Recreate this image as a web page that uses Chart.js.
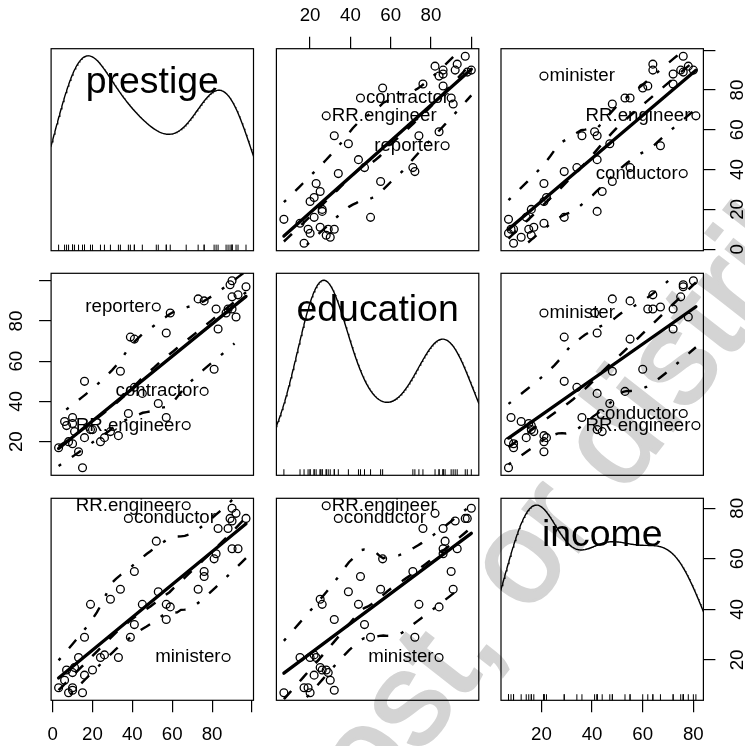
<!DOCTYPE html>
<html>
<head>
<meta charset="utf-8">
<script src="https://cdn.jsdelivr.net/npm/chart.js@4.4.0/dist/chart.umd.min.js"></script>
<style>
html,body{margin:0;padding:0;background:#fff;}
#wrap{position:relative;width:745px;height:746px;overflow:hidden;background:#fff;}
#wm{position:absolute;left:0;top:0;font-family:"Liberation Sans",Arial,sans-serif;font-weight:normal;color:#d4d4d4;-webkit-text-stroke:3px #d4d4d4;white-space:nowrap;}
canvas{position:absolute;}
</style>
</head>
<body>
<div id="wrap"><div id="wm">Do not copy, post, or distribute</div></div>
<script>
// ---------------- data (Duncan occupational prestige) ----------------
const occupations = ["accountant","pilot","architect","author","chemist","minister","professor","dentist","reporter","engineer","undertaker","lawyer","physician","welfare.worker","teacher","conductor","contractor","factory.owner","store.manager","banker","bookkeeper","mail.carrier","insurance.agent","store.clerk","carpenter","electrician","RR.engineer","machinist","auto.repairman","plumber","gas.stn.attendant","coal.miner","streetcar.motorman","taxi.driver","truck.driver","machine.operator","barber","bartender","shoe.shiner","cook","soda.clerk","watchman","janitor","policeman","waiter"];
const income    = [62,72,75,55,64,21,64,80,67,72,42,76,76,41,48,76,53,60,42,78,29,48,55,29,21,47,81,36,22,44,15,7,42,9,21,21,16,16,9,14,12,17,7,34,8];
const education = [86,76,92,90,86,84,93,100,87,86,74,98,97,84,91,34,45,56,44,82,72,55,71,50,23,39,28,32,22,25,29,7,26,19,15,20,26,28,17,22,30,25,20,47,32];
const prestige  = [82,83,90,76,90,87,93,90,52,88,57,89,97,59,73,38,76,81,45,92,39,34,41,16,33,53,67,57,26,29,10,15,19,10,13,24,20,7,3,16,6,11,8,41,10];

const varNames = ["prestige","education","income"];

// tick values and labels per variable
const prestigeTicks = [0,20,40,60,80,100];
const prestigeTickLabels = ["0","20","40","60","80",""];
const educationTicks = [20,40,60,80,100];
const educationTickLabels = ["20","40","60","80",""];
const incomeTicks = [20,40,60,80];
const incomeTickLabels = ["20","40","60","80"];

// labelled points per panel (row variable vs column variable)
const idPrestigeEducation = ["contractor","RR.engineer","reporter"];
const idPrestigeIncome    = ["minister","RR.engineer","conductor"];
const idEducationPrestige = ["reporter","contractor","RR.engineer"];
const idEducationIncome   = ["minister","conductor","RR.engineer"];
const idIncomePrestige    = ["RR.engineer","conductor","minister"];
const idIncomeEducation   = ["RR.engineer","conductor","minister"];

// ---------------- helpers ----------------
const FONT = '"Liberation Sans", Arial, Helvetica, sans-serif';
Chart.defaults.font.family = FONT;
Chart.defaults.color = '#000';

const vars = [prestige, education, income];
const ticksOf = [prestigeTicks, educationTicks, incomeTicks];
const tickLabelsOf = [prestigeTickLabels, educationTickLabels, incomeTickLabels];
const idsOf = {"0-1":idPrestigeEducation,"0-2":idPrestigeIncome,"1-0":idEducationPrestige,"1-2":idEducationIncome,"2-0":idIncomePrestige,"2-1":idIncomeEducation};

function rangeOf(a){ return [Math.min(...a), Math.max(...a)]; }
function padRange(a){ const [lo,hi]=rangeOf(a); const d=(hi-lo)*0.04; return [lo-d, hi+d]; }
function median(a){ const s=a.slice().sort((p,q)=>p-q); const n=s.length; return n%2 ? s[(n-1)/2] : (s[n/2-1]+s[n/2])/2; }
function mean(a){ return a.reduce((p,q)=>p+q,0)/a.length; }

function lmFit(xs, ys){
  const mx=mean(xs), my=mean(ys);
  let sxx=0,sxy=0;
  for(let i=0;i<xs.length;i++){ sxx+=(xs[i]-mx)**2; sxy+=(xs[i]-mx)*(ys[i]-my); }
  const b=sxy/sxx; return {a: my-b*mx, b};
}

function loessAt(xs, ys, rw, x0, span, degree){
  const n=xs.length;
  let q=Math.floor(n*span+1e-9); if(q<1) q=1; if(q>n) q=n;
  const d=xs.map(v=>Math.abs(v-x0));
  const h=d.slice().sort((a,b)=>a-b)[q-1];
  const w=new Array(n);
  let sw=0,swx=0,swy=0;
  for(let i=0;i<n;i++){
    const u = h>0 ? d[i]/h : (d[i]===0?0:1);
    const t = u<1 ? Math.pow(1-u*u*u,3) : 0;
    w[i]=t*rw[i]; sw+=w[i]; swx+=w[i]*xs[i]; swy+=w[i]*ys[i];
  }
  if(sw<=0) return NaN;
  const xb=swx/sw, yb=swy/sw;
  if(degree===0) return yb;
  let sxx=0,sxy=0;
  for(let i=0;i<n;i++){ sxx+=w[i]*(xs[i]-xb)**2; sxy+=w[i]*(xs[i]-xb)*(ys[i]-yb); }
  const b = sxx>1e-10 ? sxy/sxx : 0;
  return yb + b*(x0-xb);
}

function loessFit(xs, ys, span, degree, iterations){
  const n=xs.length; let rw=new Array(n).fill(1); let fitted=null;
  for(let it=0; it<iterations; it++){
    fitted = xs.map(x0=>loessAt(xs,ys,rw,x0,span,degree));
    if(it<iterations-1){
      const res=ys.map((y,i)=>y-fitted[i]);
      const cmad=6*median(res.map(Math.abs));
      rw=res.map(r=>{ if(cmad<=0) return 1; const u=Math.abs(r)/cmad; if(u<=0.001) return 1; if(u>0.999) return 0; return (1-u*u)**2; });
    }
  }
  const finalRw=rw;
  return {fitted, predict: x0=>loessAt(xs,ys,finalRw,x0,span,degree)};
}

function smoothLines(xs, ys){
  const span=2/3, nEval=50;
  const [lo,hi]=rangeOf(xs);
  const xe=[]; for(let i=0;i<nEval;i++) xe.push(lo+(hi-lo)*i/(nEval-1));
  const fit=loessFit(xs,ys,span,1,4);
  const ye=xe.map(fit.predict);
  const res=ys.map((y,i)=>y-fit.fitted[i]);
  const make=(sel,sign)=>{
    const sx=[], sy=[];
    res.forEach((r,i)=>{ if(sel(r)){ sx.push(xs[i]); sy.push(r*r); } });
    const one=new Array(sx.length).fill(1);
    const [a,b]=rangeOf(sx);
    const pts=[];
    xe.forEach((x,k)=>{ if(x>=a-1e-9 && x<=b+1e-9){ const v=loessAt(sx,sy,one,x,span,0); pts.push({x, y: ye[k]+sign*Math.sqrt(Math.max(v,0))}); } });
    return pts;
  };
  return {
    smooth: xe.map((x,k)=>({x,y:ye[k]})),
    upper: make(r=>r>0, 1),
    lower: make(r=>!(r>0), -1)
  };
}

// adaptive kernel density (pilot gaussian with bw.nrd0, Abramson local bandwidths)
function densityCurve(a){
  const n=a.length; const s=a.slice().sort((p,q)=>p-q);
  const qt=p=>{ const h=(n-1)*p; const lo=Math.floor(h); return s[lo]+(h-lo)*((s[Math.min(lo+1,n-1)])-s[lo]); };
  const m=mean(a); const sd=Math.sqrt(a.reduce((p,v)=>p+(v-m)**2,0)/(n-1));
  const iqr=qt(0.75)-qt(0.25);
  const bw=0.9*Math.min(sd, iqr/1.34)*Math.pow(n,-0.2);
  const phi=z=>Math.exp(-0.5*z*z)/Math.sqrt(2*Math.PI);
  const pilot=a.map(xi=>mean(a.map(v=>phi((v-xi)/bw)))/bw);
  const g=Math.exp(mean(pilot.map(Math.log)));
  const lam=pilot.map(f=>Math.sqrt(g/f));
  const [lo,hi]=rangeOf(a);
  const g0=lo-3*bw, g1=hi+3*bw, N=500;
  const xs=[], ds=[];
  for(let i=0;i<N;i++){
    const x=g0+(g1-g0)*i/(N-1); let d=0;
    a.forEach((v,k)=>{ const h=bw*lam[k]; d+=phi((v-x)/h)/h; });
    xs.push(x); ds.push(d/n);
  }
  const [dmin,dmax]=rangeOf(ds);
  return xs.map((x,i)=>({x, y: lo + ds[i]*(hi-lo)/(dmax-dmin)}));
}

// ---------------- layout ----------------
const BOX_L=[51.1,276.4,501.0], BOX_T=[48.7,273.3,498.3], BW=202.4, BH=202;
const M=60, AX=45;
const wrap=document.getElementById('wrap');

function makeDecor(r,c,yPos){
  return {
    id:'decor'+r+c,
    afterDraw(chart){
      const ctx=chart.ctx, a=chart.chartArea, xs=chart.scales.x, ys=chart.scales.y;
      ctx.save();
      ctx.strokeStyle='#000'; ctx.lineWidth=1.2;
      ctx.strokeRect(a.left,a.top,a.right-a.left,a.bottom-a.top);
      if(yPos){
        ctx.fillStyle='#000'; ctx.font='18.7px '+FONT; ctx.textAlign='center'; ctx.textBaseline='middle';
        const tv=ticksOf[r], tl=tickLabelsOf[r];
        tv.forEach((v,k)=>{
          if(!tl[k]) return;
          const py=ys.getPixelForValue(v);
          const cx = yPos==='left' ? a.left-34 : a.right+34;
          ctx.save(); ctx.translate(cx,py); ctx.rotate(-Math.PI/2); ctx.fillText(tl[k],0,0); ctx.restore();
        });
      }
      if(r===c){
        ctx.lineWidth=1; ctx.strokeStyle='#000';
        const len=0.03*(a.bottom-a.top);
        vars[c].forEach(v=>{ const px=xs.getPixelForValue(v); ctx.beginPath(); ctx.moveTo(px,a.bottom); ctx.lineTo(px,a.bottom-len); ctx.stroke(); });
        ctx.font='37.4px '+FONT; ctx.fillStyle='#000'; ctx.textAlign='center'; ctx.textBaseline='alphabetic';
        const mt=ctx.measureText(varNames[r]);
        const base=a.top+34.3+(mt.actualBoundingBoxAscent-mt.actualBoundingBoxDescent)/2;
        ctx.fillText(varNames[r],(a.left+a.right)/2,base);
      } else {
        const ids=idsOf[r+'-'+c]; const xd=vars[c], yd=vars[r];
        const [xl,xh]=padRange(xd); const midx=(xl+xh)/2;
        ctx.font='18.7px '+FONT; ctx.fillStyle='#000'; ctx.textBaseline='alphabetic';
        ids.forEach(name=>{
          const i=occupations.indexOf(name);
          const px=xs.getPixelForValue(xd[i]), py=ys.getPixelForValue(yd[i]);
          if(xd[i]<midx){ ctx.textAlign='left'; ctx.fillText(name,px+5.5,py+5); }
          else { ctx.textAlign='right'; ctx.fillText(name,px-5.5,py+5); }
        });
      }
      ctx.restore();
    }
  };
}

for(let r=0;r<3;r++){
  for(let c=0;c<3;c++){
    const cv=document.createElement('canvas');
    const cl=Math.floor(BOX_L[c])-M, ct=Math.floor(BOX_T[r])-M;
    const W=Math.ceil(BW)+2*M+1, H=Math.ceil(BH)+2*M+1;
    cv.width=W; cv.height=H;
    cv.style.left=cl+'px'; cv.style.top=ct+'px'; cv.style.width=W+'px'; cv.style.height=H+'px';
    wrap.appendChild(cv);
    let pL=BOX_L[c]-cl, pT=BOX_T[r]-ct;
    let pR=W-(BOX_L[c]-cl+BW), pB=H-(BOX_T[r]-ct+BH);
    const xPos = (c===1) ? (r===0?'top':null) : (r===2?'bottom':null);
    const yPos = (r===1) ? (c===0?'left':null) : (c===2?'right':null);
    if(xPos==='top') pT-=AX; if(xPos==='bottom') pB-=AX;
    if(yPos==='left') pL-=AX; if(yPos==='right') pR-=AX;
    const [xmin,xmax]=padRange(vars[c]);
    const [ymin,ymax]=padRange(vars[r]);
    const fitSize = (horiz, shown) => s => {
      if(shown){ if(horiz) s.height=AX; else s.width=AX; }
      else { if(horiz) s.height=0; else s.width=0; }
      s.paddingLeft=0; s.paddingRight=0; s.paddingTop=0; s.paddingBottom=0;
    };

    let datasets;
    if(r===c){
      datasets=[{data:densityCurve(vars[c]), showLine:true, borderColor:'#000', borderWidth:1.4, pointRadius:0, tension:0}];
    } else {
      const xd=vars[c], yd=vars[r];
      const pts=xd.map((x,i)=>({x,y:yd[i]}));
      const fit=lmFit(xd,yd); const [lo,hi]=rangeOf(xd);
      const sm=smoothLines(xd,yd);
      datasets=[
        {data:[{x:lo,y:fit.a+fit.b*lo},{x:hi,y:fit.a+fit.b*hi}], showLine:true, borderColor:'#000', borderWidth:3.3, pointRadius:0, borderCapStyle:'round'},
        {data:sm.smooth, showLine:true, borderColor:'#000', borderWidth:2.5, borderDash:[11,13], pointRadius:0, borderCapStyle:'butt'},
        {data:sm.upper, showLine:true, borderColor:'#000', borderWidth:2.4, borderDash:[3,13,11,13], pointRadius:0, borderCapStyle:'butt'},
        {data:sm.lower, showLine:true, borderColor:'#000', borderWidth:2.4, borderDash:[3,13,11,13], pointRadius:0, borderCapStyle:'butt'},
        {data:pts, showLine:false, pointStyle:'circle', pointRadius:3.9, borderWidth:1.3, borderColor:'#000', backgroundColor:'rgba(0,0,0,0)'}
      ];
    }

    new Chart(cv,{
      type:'scatter',
      data:{datasets},
      plugins:[makeDecor(r,c,yPos)],
      options:{
        responsive:false, maintainAspectRatio:false, animation:false, events:[], devicePixelRatio:1,
        layout:{padding:{left:pL,right:pR,top:pT,bottom:pB}},
        plugins:{legend:{display:false}, tooltip:{enabled:false}},
        scales:{
          x:{type:'linear', position:xPos||'bottom', display:!!xPos, min:xmin, max:xmax,
             afterBuildTicks:s=>{ s.ticks=ticksOf[c].map(v=>({value:v})); },
             afterFit:fitSize(true, !!xPos),
             grid:{drawOnChartArea:false, drawTicks:true, tickLength:12, color:'#000', lineWidth:1.2},
             border:{display:false},
             ticks:{display:true, autoSkip:false, maxRotation:0, minRotation:0, color:'#000',
                    font:{size:18.7, family:FONT, lineHeight:1}, padding: xPos==='top'?11.3:13.1,
                    callback:(v)=>{ const k=ticksOf[c].indexOf(v); return k>=0 ? tickLabelsOf[c][k] : ''; }}},
          y:{type:'linear', position:yPos||'left', display:!!yPos, min:ymin, max:ymax,
             afterBuildTicks:s=>{ s.ticks=ticksOf[r].map(v=>({value:v})); },
             afterFit:fitSize(false, !!yPos),
             grid:{drawOnChartArea:false, drawTicks:true, tickLength:12, color:'#000', lineWidth:1.2},
             border:{display:false},
             ticks:{display:false}}
        }
      }
    });
  }
}

// watermark placement (text kept as real text)
(function(){
  const wm=document.getElementById('wm');
  const fs=132;
  wm.style.fontSize=fs+'px'; wm.style.lineHeight=fs+'px';
  const m=document.createElement('canvas').getContext('2d');
  m.font=fs+'px "Liberation Sans"';
  const pre=m.measureText('Do not copy, po').width;
  const base=0.8465*fs;
  const ax=420, ay=756;
  wm.style.left=(ax-pre)+'px'; wm.style.top=(ay-base)+'px';
  wm.style.transformOrigin=pre+'px '+base+'px';
  wm.style.transform='rotate(-52deg)';
})();
</script>
</body>
</html>
